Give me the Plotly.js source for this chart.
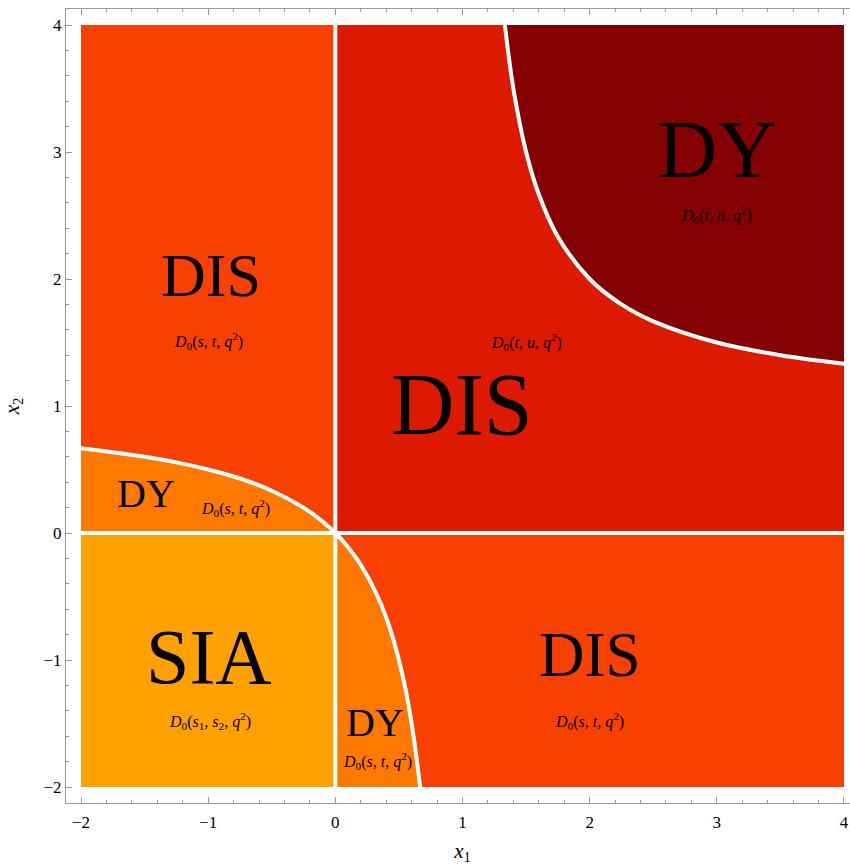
<!DOCTYPE html>
<html>
<head>
<meta charset="utf-8">
<script src="https://cdn.plot.ly/plotly-3.0.1.min.js"></script>
<style>
html,body{margin:0;padding:0;overflow:hidden;background:#fff;}
#chart{width:859px;height:865px;}
</style>
</head>
<body>
<div id="chart"></div>
<script>
// Boundary curves
const ulCurveX = [-2, -1.75, -1.5, -1.25, -1, -0.75, -0.5, -0.25, -0.1, 0];
const ulCurveY = [0.667, 0.636, 0.6, 0.556, 0.5, 0.429, 0.333, 0.2, 0.091, 0];
const lrCurveY = [-2, -1.75, -1.5, -1.25, -1, -0.75, -0.5, -0.25, -0.1, 0];
const lrCurveX = [0.667, 0.636, 0.6, 0.556, 0.5, 0.429, 0.333, 0.2, 0.091, 0];
const urCurveX = [1.333, 1.4, 1.5, 1.6, 1.75, 2, 2.25, 2.5, 3, 3.5, 4];
const urCurveY = [4, 3.5, 3, 2.667, 2.333, 2, 1.8, 1.667, 1.5, 1.4, 1.333];

const regionNames = ["SIA", "DY (x1<0)", "DIS (x1<0)", "DY (x2<0)", "DIS (x2<0)", "DIS (x1,x2>0)", "DY (x1,x2>0)"];
const regionColors = ["#FFA100", "#FF7800", "#F84000", "#FF7800", "#F84000", "#DD1A00", "#850000"];

const labelTexts = ["DIS", "DIS", "DY", "DY", "SIA", "DY", "DIS"];
const subLabels = [
  "<i>D</i><sub>0</sub>(<i>s</i>, <i>t</i>, <i>q</i><sup>2</sup>)",
  "<i>D</i><sub>0</sub>(<i>t</i>, <i>u</i>, <i>q</i><sup>2</sup>)",
  "<i>D</i><sub>0</sub>(<i>t</i>, <i>u</i>, <i>q</i><sup>2</sup>)",
  "<i>D</i><sub>0</sub>(<i>s</i>, <i>t</i>, <i>q</i><sup>2</sup>)",
  "<i>D</i><sub>0</sub>(<i>s</i><sub>1</sub>, <i>s</i><sub>2</sub>, <i>q</i><sup>2</sup>)",
  "<i>D</i><sub>0</sub>(<i>s</i>, <i>t</i>, <i>q</i><sup>2</sup>)",
  "<i>D</i><sub>0</sub>(<i>s</i>, <i>t</i>, <i>q</i><sup>2</sup>)"
];
const xTickVals = [-2, -1, 0, 1, 2, 3, 4];
const xTickText = ["\u22122", "\u22121", "0", "1", "2", "3", "4"];
const yTickVals = [-2, -1, 0, 1, 2, 3, 4];
const yTickText = ["\u22122", "\u22121", "0", "1", "2", "3", "4"];

// Build region polygons
const rev = a => a.slice().reverse();
const polys = [
  {x: [-2, 0, 0, -2, -2], y: [-2, -2, 0, 0, -2]},
  {x: [-2].concat(ulCurveX, [-2]), y: [0].concat(ulCurveY, [0])},
  {x: ulCurveX.concat([0, -2, -2]), y: ulCurveY.concat([4, 4, ulCurveY[0]])},
  {x: [0].concat(lrCurveX, [0]), y: [-2].concat(lrCurveY, [-2])},
  {x: lrCurveX.concat([4, 4, lrCurveX[0]]), y: lrCurveY.concat([0, -2, -2])},
  {x: [0, 0].concat(urCurveX, [4, 0]), y: [0, 4].concat(urCurveY, [0, 0])},
  {x: urCurveX.concat([4, urCurveX[0]]), y: urCurveY.concat([4, 4])}
];

const traces = polys.map((p, i) => ({
  type: "scatter", mode: "lines", x: p.x, y: p.y, name: regionNames[i],
  fill: "toself", fillcolor: regionColors[i], line: {width: 0, color: regionColors[i]},
  hoverinfo: "skip", showlegend: false
}));

const white = {color: "#ffffff", width: 4};
traces.push({type: "scatter", mode: "lines", x: [0, 0], y: [-2, 4], line: white, showlegend: false, hoverinfo: "skip"});
traces.push({type: "scatter", mode: "lines", x: [-2, 4], y: [0, 0], line: white, showlegend: false, hoverinfo: "skip"});
traces.push({type: "scatter", mode: "lines", x: ulCurveX.concat(rev(lrCurveX).slice(1)), y: ulCurveY.concat(rev(lrCurveY).slice(1)), line: Object.assign({shape: "spline"}, white), showlegend: false, hoverinfo: "skip"});
traces.push({type: "scatter", mode: "lines", x: urCurveX, y: urCurveY, line: Object.assign({shape: "spline"}, white), showlegend: false, hoverinfo: "skip"});

const serif = "Liberation Serif, Times New Roman, serif";
const bigPos = [[-0.978, 2.034, 62], [0.996, 1.012, 88], [3.0, 3.017, 82], [-1.489, 0.312, 40], [-0.991, -0.970, 78], [0.312, -1.489, 40], [2.003, -0.962, 63]];
const subPos = [[-1.0, 1.515], [1.507, 1.507], [3.0, 2.506], [-0.789, 0.194], [-0.986, -1.481], [0.328, -1.795], [2.0, -1.48]];

const annotations = [];
labelTexts.forEach((t, i) => {
  annotations.push({x: bigPos[i][0], y: bigPos[i][1], xref: "x", yref: "y", text: t, showarrow: false,
    font: {family: serif, size: bigPos[i][2], color: "#000"}, xanchor: "center", yanchor: "middle"});
  annotations.push({x: subPos[i][0], y: subPos[i][1], xref: "x", yref: "y", text: subLabels[i], showarrow: false,
    font: {family: serif, size: 16, color: "#000"}, xanchor: "center", yanchor: "middle"});
});

const axisCommon = {
  showgrid: false, zeroline: false, showline: true, linecolor: "#9a9a9a", linewidth: 1,
  mirror: "ticks", ticks: "inside", ticklen: 6, tickcolor: "#9a9a9a", tickwidth: 1,
  tickfont: {family: serif, size: 17, color: "#000"},
  minor: {ticks: "inside", ticklen: 3, tickcolor: "#9a9a9a", dtick: 0.2, showgrid: false}
};

const layout = {
  width: 859, height: 865,
  margin: {l: 66, r: 0, t: 9, b: 62},
  paper_bgcolor: "#ffffff", plot_bgcolor: "#ffffff",
  showlegend: false,
  xaxis: Object.assign({}, axisCommon, {range: [-2.118, 4.118], tickvals: xTickVals, ticktext: xTickText,
    ticklabelstandoff: 4,
    title: {text: "<i>x</i><sub>1</sub>", font: {family: serif, size: 21, color: "#000"}, standoff: 16}}),
  yaxis: Object.assign({}, axisCommon, {range: [-2.126, 4.126], tickvals: yTickVals, ticktext: yTickText,
    title: {text: "<i>x</i><sub>2</sub>", font: {family: serif, size: 21, color: "#000"}, standoff: 20}}),
  annotations: annotations
};

Plotly.newPlot("chart", traces, layout, {displayModeBar: false, staticPlot: true});
</script>
</body>
</html>
